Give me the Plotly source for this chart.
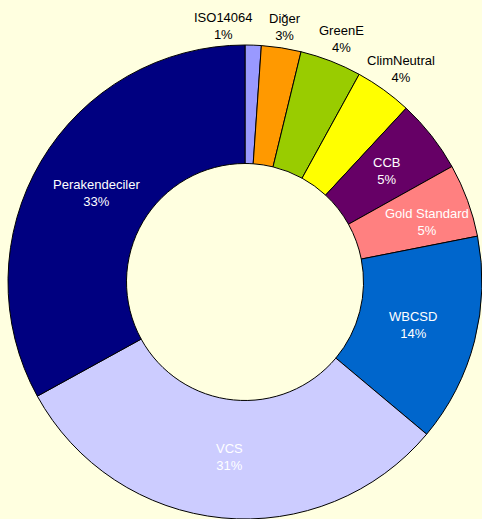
import math
import plotly.graph_objects as go

labels = ["ISO14064", "Diğer", "GreenE", "ClimNeutral", "CCB", "Gold Standard", "WBCSD", "VCS", "Perakendeciler"]
values = [1.1, 2.7, 4.2, 3.9, 5.0, 5.0, 14.2, 30.9, 33.0]
colors = ["#9999FF", "#FF9900", "#99CC00", "#FFFF00", "#660066", "#FF8080", "#0066CC", "#CCCCFF", "#000080"]
outside = [True, True, True, True, False, False, False, False, False]

# label placement styling: radius factor (relative to outer radius) and nudges (px, +y = down)
label_radius = [1.08, 1.09, 1.10, 1.11, 0.76, 0.81, 0.73, 0.74, 0.74]
label_nudge_x = [-30, 0, 2, 2, 0, 2, 0, 2, 2]
label_nudge_y = [0, 0, 0, 0, 0, 6, 0, 0, 0]

FONT = "Liberation Sans, Arial, sans-serif"
W, H = 482, 519
L = 8
dom_h = W - L  # square domain
dom_y_top = dom_h / H

total = sum(values)

fig = go.Figure(go.Pie(
    labels=labels,
    values=values,
    sort=False,
    direction="clockwise",
    rotation=0,
    hole=0.5,
    marker=dict(colors=colors, line=dict(color="black", width=1)),
    textinfo="none",
    hoverinfo="label+percent",
    showlegend=False,
    automargin=False,
    domain=dict(x=[0.0, 1.0], y=[0.0, dom_y_top]),
))

# slice labels placed along each slice's bisector
R = dom_h / 2
cx, cy = 0.5, (dom_h / 2) / H
cum = 0.0
for lab, v, o, rf, nx, ny in zip(labels, values, outside, label_radius, label_nudge_x, label_nudge_y):
    mid = (cum + v / 2) / total * 2 * math.pi
    cum += v
    r = R * rf
    fig.add_annotation(
        x=cx, y=cy, xref="paper", yref="paper",
        xshift=r * math.sin(mid) + nx, yshift=r * math.cos(mid) - ny,
        text=f"{lab}<br>{round(100 * v / total)}%",
        showarrow=False,
        font=dict(family=FONT, size=13, color="black" if o else "white"),
        align="center",
    )

fig.update_layout(
    width=W,
    height=H,
    margin=dict(l=L, r=0, t=0, b=0),
    paper_bgcolor="#FFFFE0",
    plot_bgcolor="#FFFFE0",
    font=dict(family=FONT, size=13),
)

fig.write_html(
    "out.html",
    config={"displayModeBar": False},
    post_script="document.body.style.margin='0';document.body.style.overflow='hidden';",
)
